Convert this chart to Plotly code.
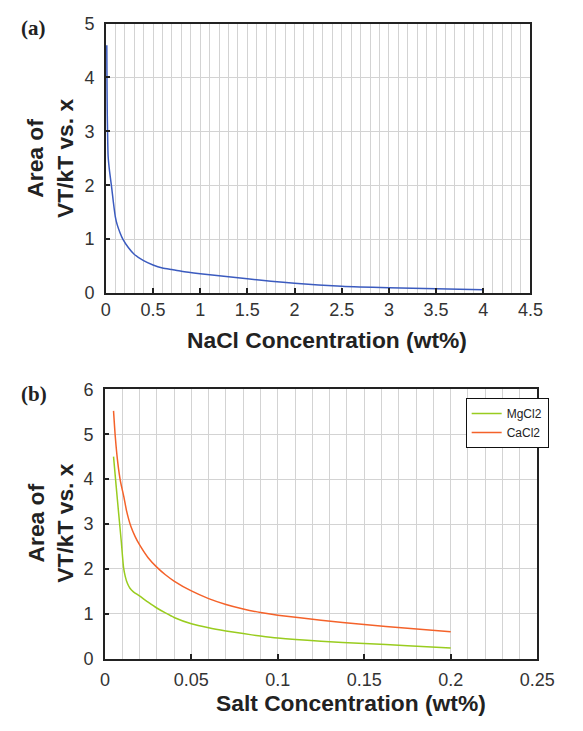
import plotly.graph_objects as go

# ---- Data (a): NaCl ----
nacl_x = [0.01, 0.012, 0.015, 0.018, 0.024, 0.04, 0.06, 0.08, 0.1, 0.12, 0.15, 0.18, 0.24,
          0.3, 0.4, 0.5, 0.6, 0.7, 0.8, 1.0, 1.25, 1.5, 1.75, 2.0, 2.5, 3.0, 3.5, 4.0]
nacl_y = [4.6, 3.9, 3.3, 3.0, 2.54, 2.25, 1.98, 1.68, 1.42, 1.27, 1.12, 1.0, 0.84,
          0.72, 0.60, 0.52, 0.465, 0.435, 0.405, 0.36, 0.31, 0.265, 0.22, 0.18, 0.125, 0.097, 0.078, 0.06]

# ---- Data (b): MgCl2 / CaCl2 ----
mg_x = [0.005, 0.0065, 0.008, 0.0095, 0.0108, 0.0118, 0.013, 0.0145, 0.0165, 0.02, 0.025, 0.03,
        0.035, 0.04, 0.05, 0.06, 0.07, 0.08, 0.09, 0.1, 0.125, 0.15, 0.175, 0.2]
mg_y = [4.5, 3.85, 3.22, 2.6, 2.03, 1.83, 1.68, 1.57, 1.49, 1.40, 1.26, 1.13,
        1.02, 0.92, 0.78, 0.69, 0.62, 0.56, 0.505, 0.46, 0.39, 0.34, 0.29, 0.24]
ca_x = [0.005, 0.006, 0.0075, 0.009, 0.011, 0.0125, 0.015, 0.0175, 0.02, 0.025, 0.03, 0.035,
        0.04, 0.05, 0.06, 0.07, 0.08, 0.09, 0.1, 0.125, 0.15, 0.175, 0.2]
ca_y = [5.52, 4.95, 4.35, 3.95, 3.6, 3.3, 2.95, 2.72, 2.54, 2.25, 2.04, 1.87,
        1.73, 1.51, 1.34, 1.21, 1.11, 1.03, 0.97, 0.86, 0.76, 0.68, 0.60]

W, H = 583, 731
tick_font = dict(family="Liberation Sans, Arial, sans-serif", size=18, color="#333333")
title_font = dict(family="Liberation Sans, Arial, sans-serif", size=22.8, color="#222222")
grid = "#d3d3d3"
frame = "#222222"

fig = go.Figure()
fig.add_trace(go.Scatter(x=nacl_x, y=nacl_y, mode="lines",
                         line=dict(color="#3b5bbf", width=1.5, shape="spline", smoothing=0.6),
                         showlegend=False, xaxis="x", yaxis="y"))
fig.add_trace(go.Scatter(x=mg_x, y=mg_y, mode="lines", name="MgCl2",
                         line=dict(color="#99cc1f", width=1.5, shape="spline", smoothing=0.6),
                         xaxis="x2", yaxis="y2"))
fig.add_trace(go.Scatter(x=ca_x, y=ca_y, mode="lines", name="CaCl2",
                         line=dict(color="#f4622a", width=1.5, shape="spline", smoothing=0.6),
                         xaxis="x2", yaxis="y2"))

def xax(domain, rng, dtick, minor, anchor, standoff):
    return dict(domain=domain, range=rng, dtick=dtick, tick0=0, anchor=anchor,
                showgrid=True, gridcolor=grid, gridwidth=1,
                minor=dict(dtick=minor, tick0=0, showgrid=True, gridcolor=grid, gridwidth=1, ticks=""),
                showline=True, mirror=True, linecolor=frame, linewidth=1.5,
                ticks="inside", ticklen=5, tickcolor=frame, tickwidth=1.5,
                ticklabelstandoff=standoff,
                tickfont=tick_font, zeroline=False, fixedrange=True)

def yax(domain, rng, anchor):
    return dict(domain=domain, range=rng, dtick=1, tick0=0, anchor=anchor,
                showgrid=True, gridcolor=grid, gridwidth=1,
                showline=True, mirror=True, linecolor=frame, linewidth=1.5,
                ticks="inside", ticklen=4, tickcolor=frame, tickwidth=1.5,
                ticklabelstandoff=6,
                tickfont=tick_font, zeroline=False, fixedrange=True)

fig.update_layout(
    width=W, height=H, margin=dict(l=0, r=0, t=0, b=0),
    paper_bgcolor="white", plot_bgcolor="white",
    xaxis=xax([105 / W, 547 / W], [0, 4.5], 0.5, 0.1, "y", 0),
    yaxis=yax([1 - 291 / H, 1 - 14 / H], [0, 5], "x"),
    xaxis2=xax([104 / W, 554 / W], [0, 0.25], 0.05, 0.01, "y2", 4),
    yaxis2=yax([1 - 667 / H, 1 - 390 / H], [0, 6], "x2"),
    legend=dict(x=566 / W, y=1 - 399 / H, xanchor="right", yanchor="top",
                bgcolor="white", bordercolor="#111111", borderwidth=1,
                font=dict(family="Liberation Sans, Arial, sans-serif", size=12, color="#222222"),
                tracegroupgap=0, itemwidth=30),
)

ann = []
# Panel labels
for txt, y in [("(a)", 18), ("(b)", 395)]:
    ann.append(dict(text=f"<b>{txt}</b>", x=15 / W, y=1 - y / H, xref="paper", yref="paper",
                    xanchor="left", yanchor="middle", showarrow=False,
                    font=dict(family="Liberation Serif, Times New Roman, serif", size=21, color="#222222")))
# Y titles
for yc in [153, 528]:
    ann.append(dict(text="<b>Area of<br>VT/kT vs. x</b>", x=47 / W, y=1 - yc / H, xref="paper", yref="paper",
                    xanchor="center", yanchor="middle", showarrow=False, textangle=-90,
                    font=title_font))
# X titles
ann.append(dict(text="<b>NaCl Concentration (wt%)</b>", x=335 / W, y=1 - 339 / H, xref="paper", yref="paper",
                xanchor="center", yanchor="middle", showarrow=False, font=title_font))
ann.append(dict(text="<b>Salt Concentration (wt%)</b>", x=360 / W, y=1 - 713 / H, xref="paper", yref="paper",
                xanchor="center", yanchor="middle", showarrow=False, font=title_font))
fig.update_layout(annotations=ann)

fig.write_html("out.html")
